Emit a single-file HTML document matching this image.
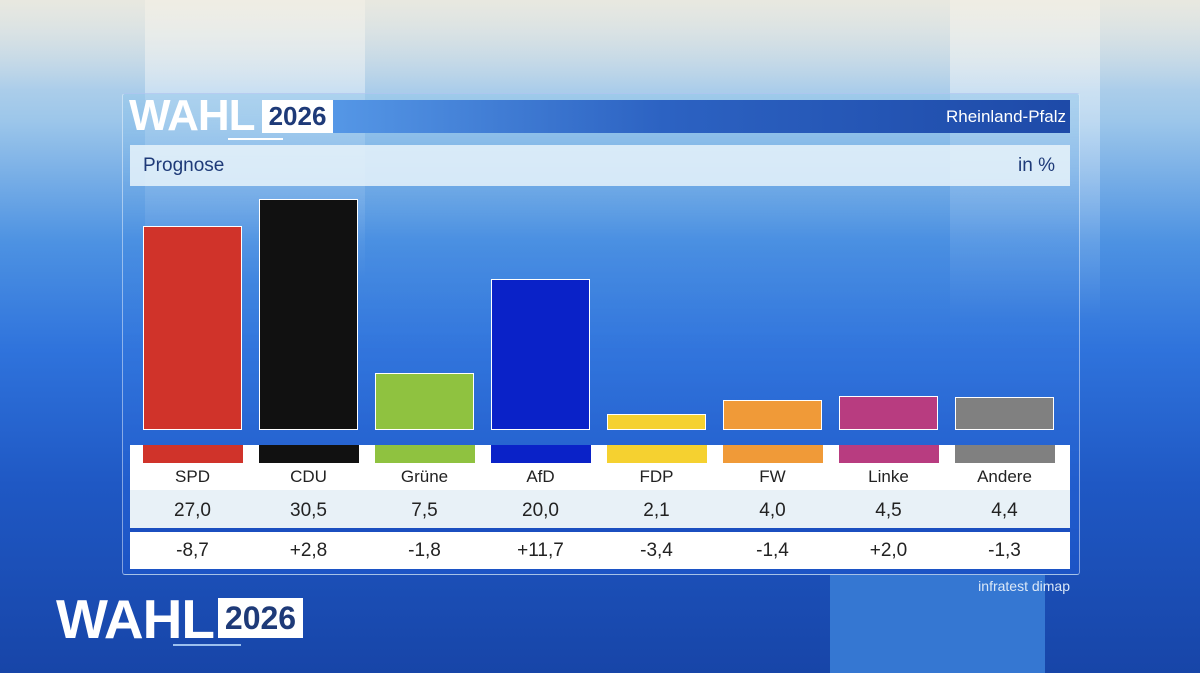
<!DOCTYPE html>
<html><head><meta charset="utf-8"><style>
*{margin:0;padding:0;box-sizing:border-box}
body{width:1200px;height:673px;overflow:hidden;position:relative;font-family:"Liberation Sans",sans-serif;
background:linear-gradient(180deg,#d6e2ea 0%,#9cc6ea 18%,#4d92e2 36%,#2f73dc 52%,#1f58c4 72%,#1745a8 100%);}
.abs{position:absolute}
</style></head><body>
<div class="abs" style="left:145px;top:0;width:220px;height:280px;background:linear-gradient(180deg,rgba(255,255,255,.55),rgba(255,255,255,0))"></div>
<div class="abs" style="left:950px;top:0;width:150px;height:320px;background:linear-gradient(180deg,rgba(255,255,255,.55),rgba(255,255,255,0))"></div>
<div class="abs" style="left:0;top:0;width:1200px;height:90px;background:linear-gradient(180deg,rgba(240,235,220,.7),rgba(240,235,220,0))"></div>
<div class="abs" style="left:830px;top:575px;width:215px;height:98px;background:#3577d2"></div>

<div class="abs" style="left:122px;top:93px;width:958px;height:482px;background:linear-gradient(180deg,rgba(150,200,235,.55) 0%,rgba(70,140,225,.35) 30%,rgba(30,90,215,.45) 100%);border:1px solid rgba(255,255,255,.45);border-radius:3px"></div>
<div class="abs" style="left:333px;top:100px;width:737px;height:33px;background:linear-gradient(90deg,#5597e6,#2c62c2 45%,#1e4aa8)"></div>
<div class="abs" style="left:129px;top:94px;font-size:44px;font-weight:bold;color:#fff;letter-spacing:-1px;line-height:44px">WAHL</div>
<div class="abs" style="left:228px;top:138px;width:55px;height:2px;background:#fff"></div>
<div class="abs" style="left:262px;top:100px;width:71px;height:33px;background:#fff;color:#1e3a78;font-size:26px;font-weight:bold;text-align:center;line-height:33px">2026</div>
<div class="abs" style="left:900px;top:100px;width:166px;height:33px;text-align:right;color:#fff;font-size:17px;line-height:33px">Rheinland-Pfalz</div>
<div class="abs" style="left:130px;top:145px;width:940px;height:41px;background:rgba(232,243,250,.85)"></div>
<div class="abs" style="left:143px;top:145px;line-height:41px;font-size:19px;color:#1e3a78">Prognose</div>
<div class="abs" style="left:1000px;top:145px;width:55px;text-align:right;line-height:41px;font-size:19px;color:#1e3a78">in %</div>
<div class="abs" style="left:130px;top:445px;width:940px;height:124px;background:#fff"></div>
<div class="abs" style="left:130px;top:490px;width:940px;height:38px;background:#e8f1f7"></div>
<div class="abs" style="left:130px;top:528px;width:940px;height:4px;background:#1b4fc0"></div>
<div id="chart"></div>
<div class="abs" style="left:940px;top:578px;width:130px;text-align:right;color:#dbe8f7;font-size:14px">infratest dimap</div>
<div class="abs" style="left:56px;top:592px;font-size:55px;font-weight:bold;color:#fff;letter-spacing:-1px;line-height:54px">WAHL</div>
<div class="abs" style="left:173px;top:644px;width:68px;height:2px;background:#9cc0ee"></div>
<div class="abs" style="left:218px;top:598px;width:85px;height:40px;background:#fff;color:#1e3a78;font-size:32px;font-weight:bold;text-align:center;line-height:40px">2026</div>
<script>
const parties=["SPD","CDU","Grüne","AfD","FDP","FW","Linke","Andere"];
const values=[27.0,30.5,7.5,20.0,2.1,4.0,4.5,4.4];
const diffs=["-8,7","+2,8","-1,8","+11,7","-3,4","-1,4","+2,0","-1,3"];
const colors=["#d0332a","#111111","#8fc240","#0a22c8","#f5d130","#f09a38","#b83c80","#808080"];
const root=document.getElementById('chart');
const x0=143,step=116,bw=99,base=430,scale=7.57;
function xs(i){return x0+i*step;}
function ys(v){return v*scale;}
parties.forEach((p,i)=>{
 const h=ys(values[i]);
 const b=document.createElement('div');
 b.className='abs';
 
 
 b.style.cssText=`left:${xs(i)}px;top:${base-h}px;width:${bw}px;height:${h}px;background:${colors[i]};border:1.5px solid #fff`;
 root.appendChild(b);
 const s=document.createElement('div');
 s.className='abs';
 
 
 s.style.cssText=`left:${xs(i)}px;top:445px;width:${bw+1}px;height:18px;background:${colors[i]}`;
 root.appendChild(s);
 const rows=[[p,477,17],[values[i].toFixed(1).replace('.',','),511,19],[diffs[i],551,19]];
 const nm=['party-label-','value-label-','diff-label-'];
 rows.forEach((r,k)=>{
  const t=document.createElement('div');
  t.className='abs';
  
  
  t.style.cssText=`left:${xs(i)-10}px;top:${r[1]-12}px;width:${bw+20}px;text-align:center;font-size:${r[2]}px;color:#222;line-height:24px`;
  t.textContent=r[0];
  root.appendChild(t);
 });
});
</script>
</body></html>
